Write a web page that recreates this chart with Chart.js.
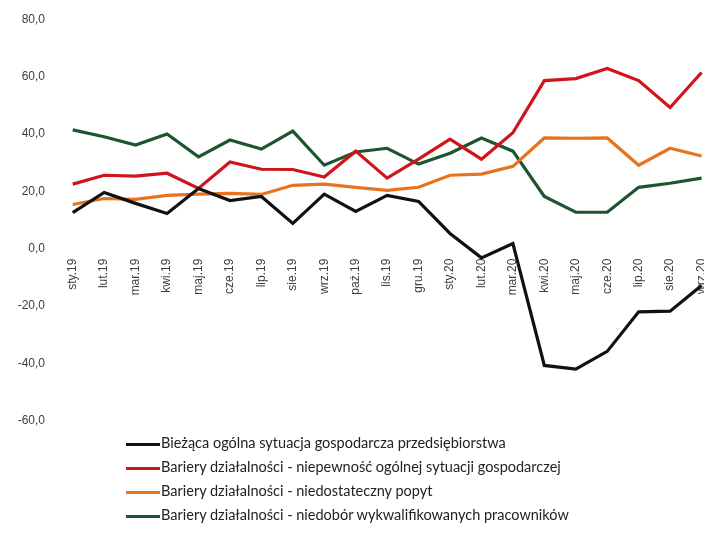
<!DOCTYPE html>
<html>
<head>
<meta charset="utf-8">
<script src="https://cdn.jsdelivr.net/npm/chart.js@4"></script>
<style>
    html, body { margin: 0; padding: 0; background: #fff; }
    body { width: 704px; height: 544px; overflow: hidden; position: relative; }
    #wrap { position: absolute; left: 0; top: 0; width: 726px; height: 440px; }
    #legenda { position: absolute; left: 126px; top: 433px; font-family: Lato, "Liberation Sans", sans-serif; font-size: 14.5px; color: #222; }
    #legenda div { height: 24px; line-height: 20px; white-space: nowrap; }
    #legenda span.linia { display: inline-block; width: 34px; height: 3px; vertical-align: middle; margin-right: 1px; }
</style>
</head>
<body>
<div id="wrap"><canvas id="wykres"></canvas></div>
<div id="legenda"></div>
<script>
// Miesiące (sty.19 - wrz.20)
const miesiace = ['sty.19', 'lut.19', 'mar.19', 'kwi.19', 'maj.19', 'cze.19', 'lip.19', 'sie.19', 'wrz.19', 'paź.19',
    'lis.19', 'gru.19', 'sty.20', 'lut.20', 'mar.20', 'kwi.20', 'maj.20', 'cze.20', 'lip.20', 'sie.20', 'wrz.20'];

const sytuacjaOgolna = [12.6, 19.6, 15.8, 12.3, 21.0, 16.8, 18.2, 8.8, 19.0, 13.0,
    18.6, 16.5, 5.3, -3.2, 1.8, -40.7, -42.0, -35.8, -22.0, -21.8, -12.8];
const niepewnosc = [22.5, 25.6, 25.3, 26.3, 21.0, 30.2, 27.7, 27.6, 25.0, 34.0,
    24.6, 31.2, 38.2, 31.2, 40.4, 58.6, 59.3, 62.8, 58.6, 49.2, 61.4];
const popyt = [15.4, 17.5, 17.2, 18.6, 19.0, 19.3, 18.9, 22.1, 22.5, 21.4,
    20.3, 21.4, 25.6, 26.0, 28.7, 38.6, 38.5, 38.6, 29.1, 35.0, 32.3];
const pracownicy = [41.4, 39.0, 36.1, 40.0, 32.0, 37.9, 34.7, 41.0, 29.1, 33.7,
    35.0, 29.5, 33.3, 38.6, 34.0, 18.2, 12.7, 12.7, 21.4, 22.8, 24.6];

const ticksY = [-60, -40, -20, 0, 20, 40, 60, 80];

const serie = [
    { label: 'Bieżąca ogólna sytuacja gospodarcza przedsiębiorstwa', data: sytuacjaOgolna, kolor: '#111111' },
    { label: 'Bariery działalności - niepewność ogólnej sytuacji gospodarczej', data: niepewnosc, kolor: '#d0141c' },
    { label: 'Bariery działalności - niedostateczny popyt', data: popyt, kolor: '#e8731e' },
    { label: 'Bariery działalności - niedobór wykwalifikowanych pracowników', data: pracownicy, kolor: '#1d5530' }
];

const kolorTekstu = '#3c3c48';

const ctx = document.getElementById('wykres').getContext('2d');
new Chart(ctx, {
    type: 'line',
    data: {
        labels: miesiace,
        datasets: serie.map(s => ({
            label: s.label,
            data: s.data,
            borderColor: s.kolor,
            backgroundColor: s.kolor,
            borderWidth: 3.2,
            pointRadius: 0,
            tension: 0,
            fill: false
        }))
    },
    options: {
        responsive: true,
        maintainAspectRatio: false,
        animation: false,
        layout: { padding: { top: 18, bottom: 12, left: 0, right: 2 } },
        plugins: {
            legend: { display: false },
            tooltip: { enabled: false }
        },
        scales: {
            x: {
                position: { y: 0 },
                offset: true,
                grid: { display: false, drawTicks: false },
                border: { display: false },
                ticks: {
                    color: kolorTekstu,
                    font: { family: '"Liberation Sans", Arial, sans-serif', size: 12 },
                    minRotation: 90,
                    maxRotation: 90,
                    autoSkip: false,
                    padding: 10
                }
            },
            y: {
                min: -60,
                max: 80,
                afterFit: function (scale) { scale.width = 57; },
                afterBuildTicks: function (scale) { scale.ticks = ticksY.map(v => ({ value: v })); },
                grid: { display: false, drawTicks: false },
                border: { display: false },
                ticks: {
                    color: kolorTekstu,
                    font: { family: '"Liberation Sans", Arial, sans-serif', size: 12 },
                    padding: 12,
                    callback: function (value) {
                        return value.toFixed(1).replace('.', ',');
                    }
                }
            }
        }
    }
});

// Legenda pod wykresem
const legenda = document.getElementById('legenda');
serie.forEach(s => {
    const wiersz = document.createElement('div');
    const linia = document.createElement('span');
    linia.className = 'linia';
    linia.style.background = s.kolor;
    wiersz.appendChild(linia);
    wiersz.appendChild(document.createTextNode(s.label));
    legenda.appendChild(wiersz);
});
</script>
</body>
</html>
